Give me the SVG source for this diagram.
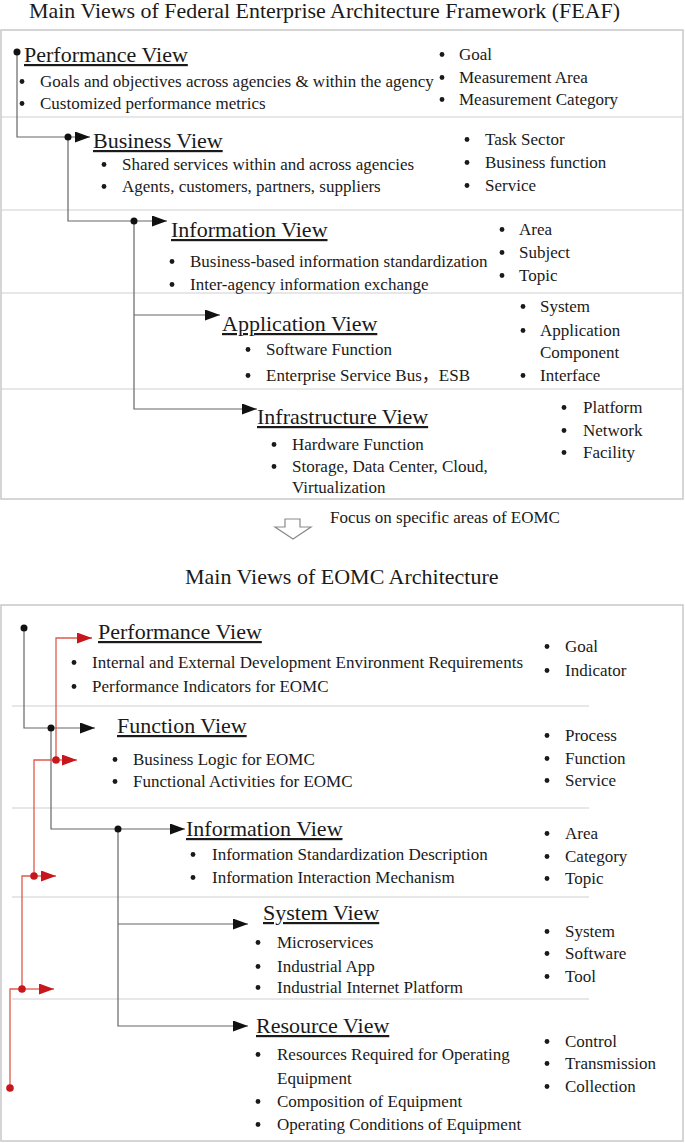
<svg xmlns="http://www.w3.org/2000/svg" width="685" height="1143" viewBox="0 0 685 1143">
<style>
text{font-family:"Liberation Serif","Times New Roman","Noto Sans CJK SC",serif;fill:#1a1a1a}
.title{font-size:22px}
.title2{font-size:22px}
.h{font-size:22px;text-decoration:underline}
.s{font-size:17px}
.b{fill:#1a1a1a}
.box{fill:none;stroke:#c8c8c8;stroke-width:1.5}
.sep{stroke:#d0d0d0;stroke-width:1.2}
.c{fill:none;stroke:#666;stroke-width:1.2}
.r{fill:none;stroke:#e05a4a;stroke-width:1.3}
.d{fill:#111}
.rd{fill:#c8161d}
.hollow{fill:#fff;stroke:#8a8a8a;stroke-width:1.2}
</style>
<defs>
<marker id="ak" markerUnits="userSpaceOnUse" markerWidth="15" markerHeight="11" refX="15" refY="5.5" orient="auto"><path d="M0,0 L15,5.5 L0,11 z" fill="#111"/></marker>
<marker id="ar" markerUnits="userSpaceOnUse" markerWidth="15" markerHeight="11" refX="15" refY="5.5" orient="auto"><path d="M0,0 L15,5.5 L0,11 z" fill="#c8161d"/></marker>
</defs>
<rect width="685" height="1143" fill="#fff"/>

<!-- Titles -->
<text class="title" x="29" y="18" textLength="591" lengthAdjust="spacingAndGlyphs">Main Views of Federal Enterprise Architecture Framework (FEAF)</text>
<text class="title2" x="185" y="584">Main Views of EOMC Architecture</text>

<!-- Frames -->
<g id="frames">
<rect class="box" x="1" y="30" width="682" height="469"/>
<line class="sep" x1="1" y1="117" x2="683" y2="117"/>
<line class="sep" x1="1" y1="210" x2="683" y2="210"/>
<line class="sep" x1="1" y1="293" x2="683" y2="293"/>
<line class="sep" x1="1" y1="389" x2="683" y2="389"/>
<rect class="box" x="1" y="605" width="682" height="536"/>
<line class="sep" x1="12" y1="706" x2="589" y2="706"/>
<line class="sep" x1="12" y1="808" x2="589" y2="808"/>
<line class="sep" x1="12" y1="897" x2="589" y2="897"/>
<line class="sep" x1="12" y1="999" x2="589" y2="999"/>
</g>

<!-- Transition arrow -->
<g id="focus">
<polygon class="hollow" points="285,519 300,519 300,527 311,527 293,539 275,527 285,527"/>
<text class="s" x="330" y="523">Focus on specific areas of EOMC</text>
</g>

<!-- Connectors -->
<g id="connectors">
<path class="c" d="M17,52 V137 H90" marker-end="url(#ak)"/>
<path class="c" d="M68,137 V221 H167" marker-end="url(#ak)"/>
<path class="c" d="M134,221 V409 H257" marker-end="url(#ak)"/>
<path class="c" d="M134,315 H220" marker-end="url(#ak)"/>
<circle class="d" cx="17" cy="52" r="3.5"/>
<circle class="d" cx="68" cy="137" r="3.5"/>
<circle class="d" cx="134" cy="221" r="3.5"/>

<path class="c" d="M24,628 V728 H95" marker-end="url(#ak)"/>
<path class="c" d="M51,728 V829 H185" marker-end="url(#ak)"/>
<path class="c" d="M118,829 V1026 H248" marker-end="url(#ak)"/>
<path class="c" d="M118,924 H248" marker-end="url(#ak)"/>
<circle class="d" cx="24" cy="628" r="3.5"/>
<circle class="d" cx="51" cy="728" r="3.5"/>
<circle class="d" cx="118" cy="829" r="3.5"/>

<path class="r" d="M56,760 V638 H92" marker-end="url(#ar)"/>
<path class="r" d="M56,760 H77" marker-end="url(#ar)"/>
<path class="r" d="M34,876 V760 H56"/>
<path class="r" d="M34,876 H56" marker-end="url(#ar)"/>
<path class="r" d="M22,989 V876 H34"/>
<path class="r" d="M22,989 H54" marker-end="url(#ar)"/>
<path class="r" d="M10,1088 V989 H22"/>
<circle class="rd" cx="56" cy="760" r="3.8"/>
<circle class="rd" cx="34" cy="876" r="3.8"/>
<circle class="rd" cx="22" cy="989" r="3.8"/>
<circle class="rd" cx="10" cy="1088" r="3.8"/>
</g>

<!-- FEAF nodes -->
<g id="feaf-performance">
<text class="h" x="24" y="62">Performance View</text>
<circle class="b" cx="22" cy="81.5" r="2.4"/><text class="s" x="40" y="87">Goals and objectives across agencies &amp; within the agency</text>
<circle class="b" cx="22" cy="103.5" r="2.4"/><text class="s" x="40" y="109">Customized performance metrics</text>
<circle class="b" cx="442" cy="54.5" r="2.4"/><text class="s" x="459" y="60">Goal</text>
<circle class="b" cx="442" cy="77.5" r="2.4"/><text class="s" x="459" y="83">Measurement Area</text>
<circle class="b" cx="442" cy="99.5" r="2.4"/><text class="s" x="459" y="105">Measurement Category</text>
</g>

<g id="feaf-business">
<text class="h" x="93" y="148">Business View</text>
<circle class="b" cx="104" cy="164.5" r="2.4"/><text class="s" x="122" y="170">Shared services within and across agencies</text>
<circle class="b" cx="104" cy="186.5" r="2.4"/><text class="s" x="122" y="192">Agents, customers, partners, suppliers</text>
<circle class="b" cx="467" cy="139.5" r="2.4"/><text class="s" x="485" y="145">Task Sector</text>
<circle class="b" cx="467" cy="162.5" r="2.4"/><text class="s" x="485" y="168">Business function</text>
<circle class="b" cx="467" cy="185.5" r="2.4"/><text class="s" x="485" y="191">Service</text>
</g>

<g id="feaf-information">
<text class="h" x="171" y="237">Information View</text>
<circle class="b" cx="172" cy="261.5" r="2.4"/><text class="s" x="190" y="267">Business-based information standardization</text>
<circle class="b" cx="172" cy="284.5" r="2.4"/><text class="s" x="190" y="290">Inter-agency information exchange</text>
<circle class="b" cx="502" cy="229.5" r="2.4"/><text class="s" x="519" y="235">Area</text>
<circle class="b" cx="502" cy="252.5" r="2.4"/><text class="s" x="519" y="258">Subject</text>
<circle class="b" cx="502" cy="275.5" r="2.4"/><text class="s" x="519" y="281">Topic</text>
</g>

<g id="feaf-application">
<text class="h" x="222" y="331">Application View</text>
<circle class="b" cx="248" cy="349.5" r="2.4"/><text class="s" x="266" y="355">Software Function</text>
<circle class="b" cx="248" cy="375.5" r="2.4"/><text class="s" x="266" y="381">Enterprise Service Bus，ESB</text>
<circle class="b" cx="523" cy="306.5" r="2.4"/><text class="s" x="540" y="312">System</text>
<circle class="b" cx="523" cy="330.5" r="2.4"/><text class="s" x="540" y="336">Application</text>
<text class="s" x="540" y="358">Component</text>
<circle class="b" cx="523" cy="375.5" r="2.4"/><text class="s" x="540" y="381">Interface</text>
</g>

<g id="feaf-infrastructure">
<text class="h" x="257" y="424">Infrastructure View</text>
<circle class="b" cx="274" cy="444.5" r="2.4"/><text class="s" x="292" y="450">Hardware Function</text>
<circle class="b" cx="274" cy="466.5" r="2.4"/><text class="s" x="292" y="472">Storage, Data Center, Cloud,</text>
<text class="s" x="292" y="493">Virtualization</text>
<circle class="b" cx="564" cy="407.5" r="2.4"/><text class="s" x="583" y="413">Platform</text>
<circle class="b" cx="564" cy="430.5" r="2.4"/><text class="s" x="583" y="436">Network</text>
<circle class="b" cx="564" cy="452.5" r="2.4"/><text class="s" x="583" y="458">Facility</text>
</g>

<!-- EOMC nodes -->
<g id="eomc-performance">
<text class="h" x="98" y="639">Performance View</text>
<circle class="b" cx="74" cy="662.5" r="2.4"/><text class="s" x="92" y="668">Internal and External Development Environment Requirements</text>
<circle class="b" cx="74" cy="686.5" r="2.4"/><text class="s" x="92" y="692">Performance Indicators for EOMC</text>
<circle class="b" cx="547" cy="646.5" r="2.4"/><text class="s" x="565" y="652">Goal</text>
<circle class="b" cx="547" cy="670.5" r="2.4"/><text class="s" x="565" y="676">Indicator</text>
</g>

<g id="eomc-function">
<text class="h" x="117" y="733">Function View</text>
<circle class="b" cx="115" cy="759.5" r="2.4"/><text class="s" x="133" y="765">Business Logic for EOMC</text>
<circle class="b" cx="115" cy="781.5" r="2.4"/><text class="s" x="133" y="787">Functional Activities for EOMC</text>
<circle class="b" cx="547" cy="735.5" r="2.4"/><text class="s" x="565" y="741">Process</text>
<circle class="b" cx="547" cy="758.5" r="2.4"/><text class="s" x="565" y="764">Function</text>
<circle class="b" cx="547" cy="780.5" r="2.4"/><text class="s" x="565" y="786">Service</text>
</g>

<g id="eomc-information">
<text class="h" x="186" y="836">Information View</text>
<circle class="b" cx="193" cy="854.5" r="2.4"/><text class="s" x="212" y="860">Information Standardization Description</text>
<circle class="b" cx="193" cy="877.5" r="2.4"/><text class="s" x="212" y="883">Information Interaction Mechanism</text>
<circle class="b" cx="547" cy="833.5" r="2.4"/><text class="s" x="565" y="839">Area</text>
<circle class="b" cx="547" cy="856.5" r="2.4"/><text class="s" x="565" y="862">Category</text>
<circle class="b" cx="547" cy="878.5" r="2.4"/><text class="s" x="565" y="884">Topic</text>
</g>

<g id="eomc-system">
<text class="h" x="263" y="920">System View</text>
<circle class="b" cx="258" cy="942.5" r="2.4"/><text class="s" x="277" y="948">Microservices</text>
<circle class="b" cx="258" cy="966.5" r="2.4"/><text class="s" x="277" y="972">Industrial App</text>
<circle class="b" cx="258" cy="987.5" r="2.4"/><text class="s" x="277" y="993">Industrial Internet Platform</text>
<circle class="b" cx="547" cy="931.5" r="2.4"/><text class="s" x="565" y="937">System</text>
<circle class="b" cx="547" cy="953.5" r="2.4"/><text class="s" x="565" y="959">Software</text>
<circle class="b" cx="547" cy="976.5" r="2.4"/><text class="s" x="565" y="982">Tool</text>
</g>

<g id="eomc-resource">
<text class="h" x="256" y="1033">Resource View</text>
<circle class="b" cx="258" cy="1054.5" r="2.4"/><text class="s" x="277" y="1060">Resources Required for Operating</text>
<text class="s" x="277" y="1084">Equipment</text>
<circle class="b" cx="258" cy="1101.5" r="2.4"/><text class="s" x="277" y="1107">Composition of Equipment</text>
<circle class="b" cx="258" cy="1124.5" r="2.4"/><text class="s" x="277" y="1130">Operating Conditions of Equipment</text>
<circle class="b" cx="547" cy="1041.5" r="2.4"/><text class="s" x="565" y="1047">Control</text>
<circle class="b" cx="547" cy="1063.5" r="2.4"/><text class="s" x="565" y="1069">Transmission</text>
<circle class="b" cx="547" cy="1086.5" r="2.4"/><text class="s" x="565" y="1092">Collection</text>
</g>
</svg>
